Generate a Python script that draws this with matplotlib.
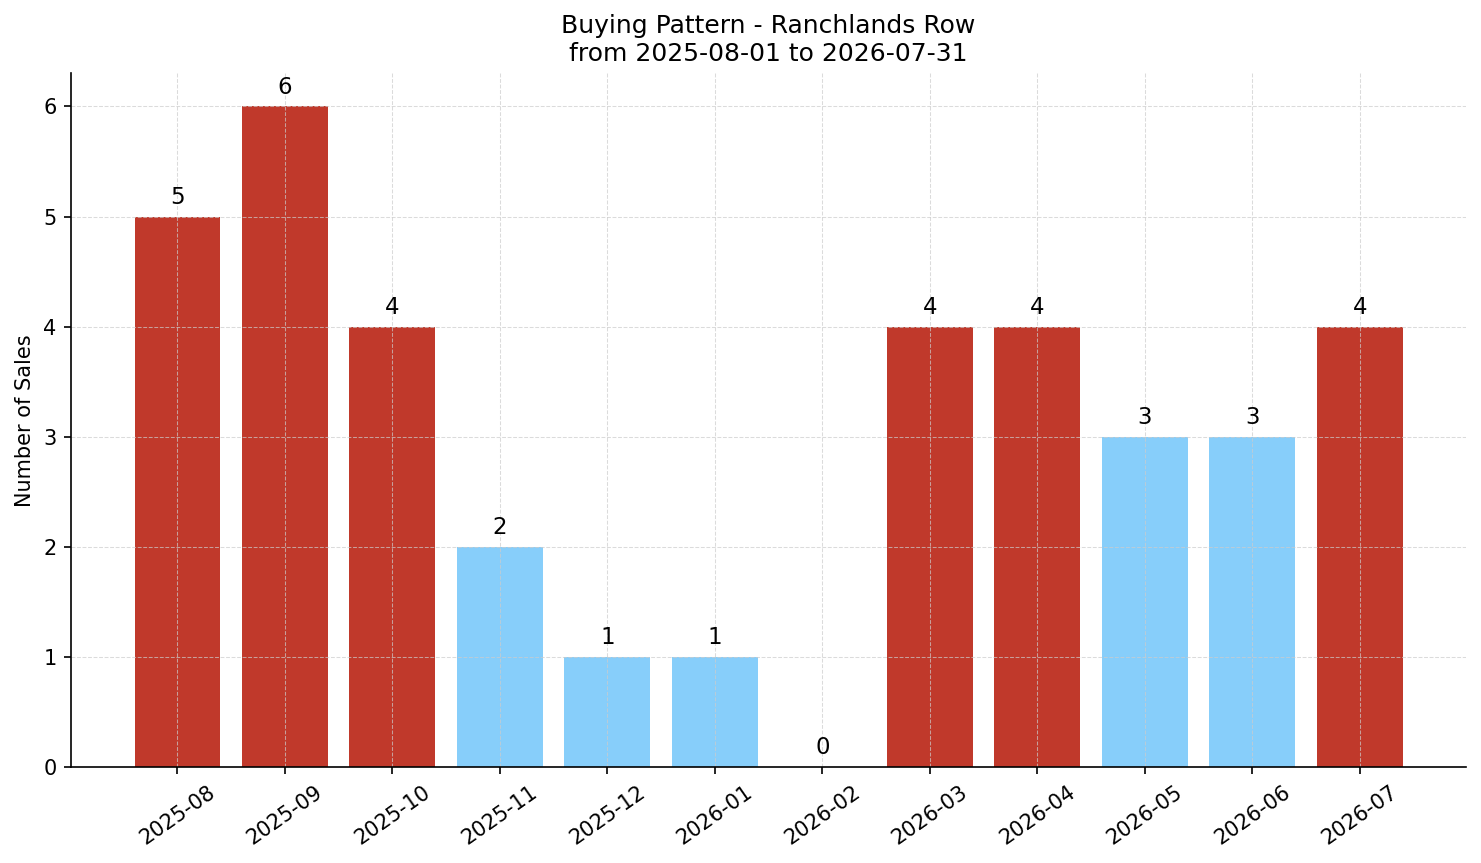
import numpy as np
import matplotlib.pyplot as plt

months = ["2025-08", "2025-09", "2025-10", "2025-11", "2025-12", "2026-01",
          "2026-02", "2026-03", "2026-04", "2026-05", "2026-06", "2026-07"]
sales = [5, 6, 4, 2, 1, 1, 0, 4, 4, 3, 3, 4]

avg = np.mean(sales)
colors = ['#c0392b' if s > avg else '#87cefa' for s in sales]

fig, ax = plt.subplots(figsize=(1481/150, 863/150), dpi=150)
fig.subplots_adjust(left=0.048, right=0.990, top=0.915, bottom=0.111)

x = np.arange(len(months))
ax.bar(x, sales, color=colors, width=0.8)
for i, s in enumerate(sales):
    ax.text(i, s + 0.07, str(s), ha='center', va='bottom', fontsize=11)

ax.set_xticks(x)
ax.set_xticklabels(months, rotation=35)
ax.set_ylabel('Number of Sales')
ax.set_title('Buying Pattern - Ranchlands Row\nfrom 2025-08-01 to 2026-07-31', fontsize=12)
ax.grid(True, linestyle='--', linewidth=0.5, color='#cccccc', alpha=0.7)
ax.spines['top'].set_visible(False)
ax.spines['right'].set_visible(False)

plt.savefig('out.png', dpi=150)
